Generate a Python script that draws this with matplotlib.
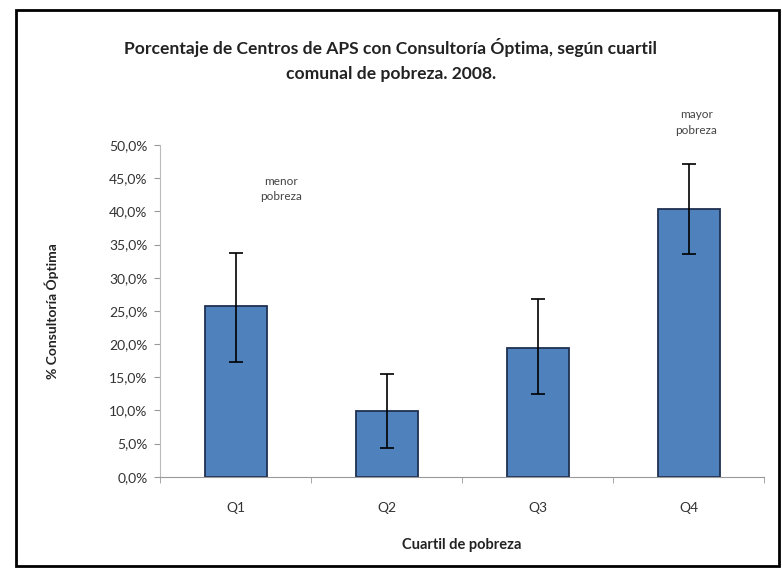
import matplotlib
matplotlib.use("Agg")
import matplotlib.pyplot as plt
from matplotlib.patches import Rectangle
from matplotlib.ticker import FuncFormatter, FixedLocator

categories = ["Q1", "Q2", "Q3", "Q4"]
values = [25.7, 9.9, 19.4, 40.3]
err_low = [17.3, 4.4, 12.4, 33.6]
err_high = [33.7, 15.5, 26.8, 47.1]

title = "Porcentaje de Centros de APS con Consultoría Óptima, según cuartil\ncomunal de pobreza. 2008."
ylabel = "% Consultoría Óptima"
xlabel = "Cuartil de pobreza"

plt.rcParams['font.family'] = ['Lato', 'DejaVu Sans']

fig = plt.figure(figsize=(7.82, 5.68), dpi=100)
fig.patch.set_facecolor("white")
fig.patches.append(Rectangle((0.021, 0.004), 0.975, 0.978, transform=fig.transFigure,
                             fill=False, edgecolor="black", linewidth=2))

ax = fig.add_axes([0.2046, 0.1607, 0.773, 0.584])
x = list(range(len(categories)))
yerr = [[v - l for v, l in zip(values, err_low)], [h - v for v, h in zip(values, err_high)]]
ax.bar(x, values, width=0.41, color="#4F81BD", edgecolor="#1F3050", linewidth=1.3,
       yerr=yerr, error_kw=dict(ecolor="black", elinewidth=1.2, capsize=5, capthick=1.2))

ax.set_xlim(-0.5, 3.5)
ax.set_ylim(0, 50)
ax.yaxis.set_major_locator(FixedLocator([i * 5 for i in range(11)]))
ax.yaxis.set_major_formatter(FuncFormatter(lambda v, p: f"{v:.1f}%".replace(".", ",")))
ax.set_xticks(x)
ax.set_xticklabels(categories)
ax.set_xticks([-0.5, 0.5, 1.5, 2.5, 3.5], minor=True)
ax.tick_params(axis="x", which="major", length=0, labelsize=10, pad=18, colors="#333333")
ax.tick_params(axis="x", which="minor", length=4, color="#999999")
ax.tick_params(axis="y", length=4, color="#999999", labelsize=10, labelcolor="#333333", pad=5)
for s in ["top", "right"]:
    ax.spines[s].set_visible(False)
ax.spines["left"].set_color("#BBBBBB")
ax.spines["bottom"].set_color("#999999")

ax.text(0.30, 43.4, "menor\npobreza", ha="center", va="center", fontsize=8.5, color="#444444",
        linespacing=1.5)
ax.text(3.05, 53.4, "mayor\npobreza", ha="center", va="center", fontsize=8.5, color="#444444",
        linespacing=1.5, clip_on=False)

fig.text(0.5, 0.895, title, ha="center", va="center", fontsize=12.6, fontweight="bold",
         color="#222222", linespacing=1.7)
fig.text(0.591, 0.04, xlabel, ha="center", va="center", fontsize=10.5, fontweight="bold", color="#222222")
fig.text(0.066, 0.453, ylabel, ha="center", va="center", rotation=90, fontsize=10,
         fontweight="bold", color="#222222")

fig.savefig("out.png", dpi=100)
